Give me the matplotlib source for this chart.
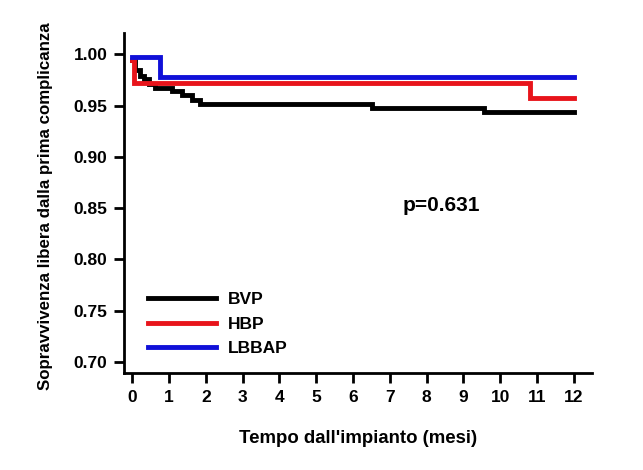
import matplotlib.pyplot as plt

plt.rcParams['font.family'] = ['Liberation Sans', 'DejaVu Sans']
plt.rcParams['font.weight'] = 'bold'

# Kaplan-Meier step data (months, survival)
bvp_t = [0, 0.08, 0.22, 0.31, 0.47, 0.63, 1.08, 1.35, 1.62, 1.83, 6.52, 9.55, 12]
bvp_s = [0.995, 0.985, 0.979, 0.976, 0.971, 0.967, 0.964, 0.960, 0.956, 0.952, 0.948, 0.944, 0.944]
hbp_t = [0, 0.05, 10.8, 12]
hbp_s = [0.995, 0.972, 0.957, 0.957]
lbbap_t = [0, 0.76, 12]
lbbap_s = [0.997, 0.978, 0.978]

series = [('BVP', bvp_t, bvp_s, 'black'),
          ('HBP', hbp_t, hbp_s, '#e8141b'),
          ('LBBAP', lbbap_t, lbbap_s, '#1010d8')]

fig = plt.figure(figsize=(6.43, 4.70), dpi=100)
ax = fig.add_axes([0.193, 0.206, 0.728, 0.724])

for name, t, s, c in series:
    ax.step(t, s, where='post', color=c, lw=3.5, label=name,
            solid_joinstyle='miter')

ax.set_xlim(-0.22, 12.5)
ax.set_ylim(0.689, 1.021)
ax.set_xticks(range(13))
ax.set_yticks([0.70, 0.75, 0.80, 0.85, 0.90, 0.95, 1.00])
ax.set_yticklabels([f'{v:.2f}' for v in ax.get_yticks()])
ax.tick_params(width=2, length=7, labelsize=12.5, pad=5)
for side in ('top', 'right'):
    ax.spines[side].set_visible(False)
for side in ('left', 'bottom'):
    ax.spines[side].set_linewidth(2)

ax.set_xlabel("Tempo dall'impianto (mesi)", fontsize=13.4, fontweight='bold', labelpad=18)
ax.set_ylabel('Sopravvivenza libera dalla prima complicanza', fontsize=12.2,
              fontweight='bold')
ax.yaxis.set_label_coords(-0.152, 0.49)

ax.text(8.4, 0.853, 'p=0.631', fontsize=15, fontweight='bold', ha='center', va='center')

ax.legend(loc='lower left', bbox_to_anchor=(0.036, 0.029), frameon=False,
          handlelength=3.9, labelspacing=0.55, fontsize=12.5, handletextpad=0.7,
          borderaxespad=0)

fig.savefig('out.png', dpi=100)
